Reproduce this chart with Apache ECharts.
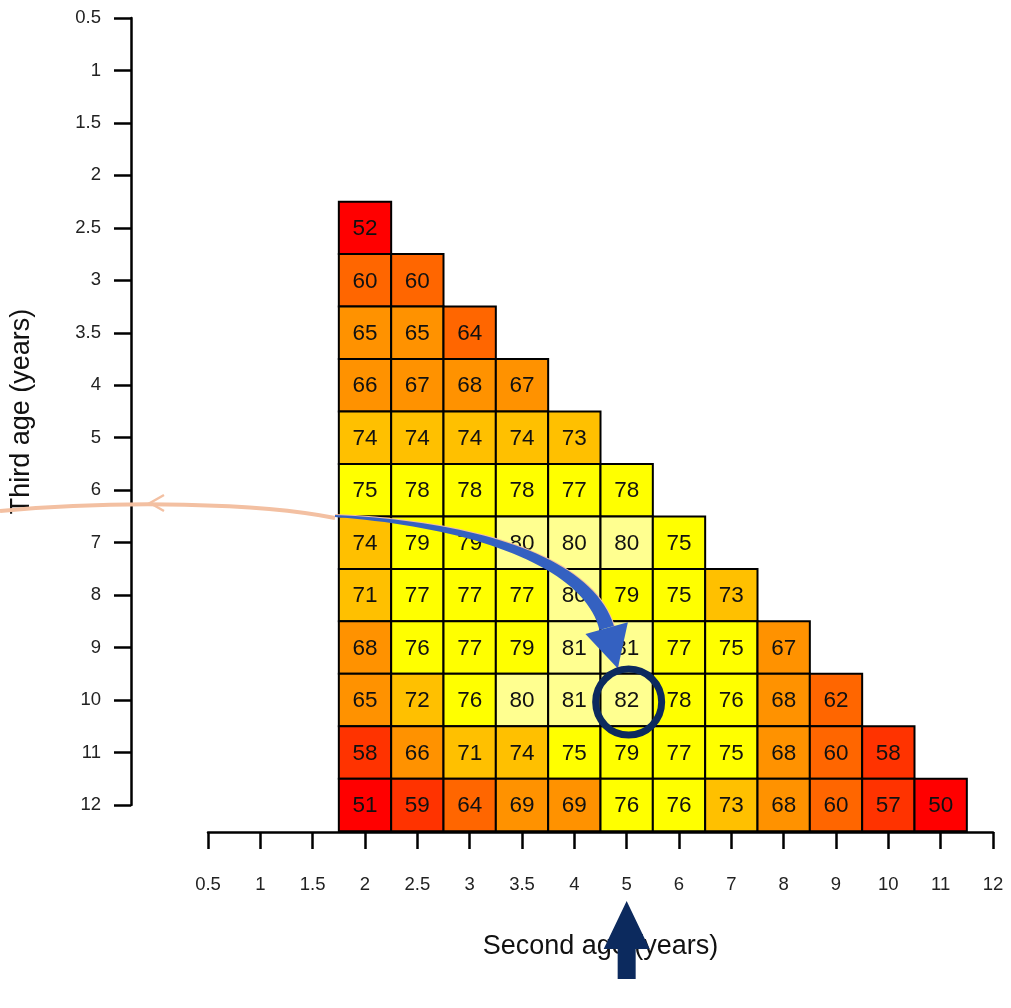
<!DOCTYPE html>
<html><head><meta charset="utf-8">
<script src="https://cdn.jsdelivr.net/npm/echarts@6/dist/echarts.min.js"></script>
<style>html,body{margin:0;padding:0;background:#fff}#c{width:1011px;height:1008px}</style>
</head><body><div id="c"></div>
<script>
// ---- data ----
const secondAges = ['0.5','1','1.5','2','2.5','3','3.5','4','5','6','7','8','9','10','11','12'];
const thirdAges  = ['0.5','1','1.5','2','2.5','3','3.5','4','5','6','7','8','9','10','11','12'];
const firstSecondAge = '2'; // each row below starts at second age = 2
const third_2_5 = [52];
const third_3   = [60, 60];
const third_3_5 = [65, 65, 64];
const third_4   = [66, 67, 68, 67];
const third_5   = [74, 74, 74, 74, 73];
const third_6   = [75, 78, 78, 78, 77, 78];
const third_7   = [74, 79, 79, 80, 80, 80, 75];
const third_8   = [71, 77, 77, 77, 80, 79, 75, 73];
const third_9   = [68, 76, 77, 79, 81, 81, 77, 75, 67];
const third_10  = [65, 72, 76, 80, 81, 82, 78, 76, 68, 62];
const third_11  = [58, 66, 71, 74, 75, 79, 77, 75, 68, 60, 58];
const third_12  = [51, 59, 64, 69, 69, 76, 76, 73, 68, 60, 57, 50];
const rowLabels = ['2.5','3','3.5','4','5','6','7','8','9','10','11','12'];
const rowValues = [third_2_5, third_3, third_3_5, third_4, third_5, third_6, third_7, third_8, third_9, third_10, third_11, third_12];
const colorBins   = [50, 54.5, 59.5, 64.5, 69.5, 74.5, 79.5, 85];
const colorValues = ['#FF0000', '#FF3300', '#FF6600', '#FF9200', '#FFC000', '#FFFF00', '#FFFF90'];

// ---- build ----
const startIdx = secondAges.indexOf(firstSecondAge);
const data = [];
rowLabels.forEach((ry, i) => {
  rowValues[i].forEach((v, j) => data.push([secondAges[startIdx + j], ry, v]));
});
const pieces = colorValues.map((c, i) => ({ min: colorBins[i], max: colorBins[i + 1], color: c }));

const FONT = '"Liberation Sans", Arial, Helvetica, sans-serif';
const chart = echarts.init(document.getElementById('c'), null, { renderer: 'canvas' });
const axisCommon = {
  type: 'category',
  boundaryGap: false,
  axisLine: { show: true, lineStyle: { color: '#000', width: 2.5 } },
  axisTick: { show: true, interval: 0, length: 17, lineStyle: { color: '#000', width: 2.5 } },
  splitLine: { show: false },
  nameLocation: 'middle',
  nameTextStyle: { fontSize: 27, fontFamily: FONT, color: '#111' }
};
chart.setOption({
  animation: false,
  backgroundColor: '#fff',
  grid: { left: 207, right: 18, top: 18, bottom: 203, containLabel: false },
  xAxis: Object.assign({}, axisCommon, {
    data: secondAges, position: 'bottom', offset: 27,
    name: 'Second age (years)', nameGap: 101,
    axisLabel: { interval: 0, margin: 43, fontSize: 18.5, fontFamily: FONT, color: '#222' }
  }),
  yAxis: Object.assign({}, axisCommon, {
    data: thirdAges, inverse: true, position: 'left', offset: 77,
    name: 'Third age (years)', nameGap: 96,
    axisLabel: { interval: 0, margin: 30, fontSize: 18.5, fontFamily: FONT, color: '#222' }
  }),
  visualMap: { show: false, type: 'piecewise', dimension: 2, pieces: pieces, seriesIndex: 0 },
  series: [{
    type: 'custom',
    encode: { x: 0, y: 1 },
    data: data,
    z: 2,
    renderItem: function (params, api) {
      const c = api.coord([api.value(0), api.value(1)]);
      const s = api.size([1, 1]);
      return {
        type: 'group',
        children: [
          { type: 'rect', shape: { x: c[0] - s[0] / 2, y: c[1] - s[1] / 2, width: s[0], height: s[1] },
            style: { fill: api.visual('color'), stroke: '#000', lineWidth: 2 } },
          { type: 'text', style: { x: c[0], y: c[1] + 1, text: String(api.value(2)), align: 'center', verticalAlign: 'middle',
            fontSize: 22.5, fontFamily: FONT, fill: '#111' } }
        ]
      };
    }
  }]
});

// ---- annotations ----
const px = (xl, yl) => chart.convertToPixel({ gridIndex: 0 }, [secondAges.indexOf(xl), thirdAges.indexOf(yl)]);
const target = px('5', '10');
const xAxisY = px('5', '12')[1] + 27;

// blue curved arrow
const P0 = [335, 516], P1 = [470, 524], P2 = [588, 560], P3 = [target[0] - 20, target[1] - 72];
function bez(t) {
  const a = (1 - t) ** 3, b = 3 * (1 - t) ** 2 * t, c = 3 * (1 - t) * t * t, d = t ** 3;
  return [a * P0[0] + b * P1[0] + c * P2[0] + d * P3[0], a * P0[1] + b * P1[1] + c * P2[1] + d * P3[1]];
}
function tan(t) {
  const dx = 3 * (1 - t) ** 2 * (P1[0] - P0[0]) + 6 * (1 - t) * t * (P2[0] - P1[0]) + 3 * t * t * (P3[0] - P2[0]);
  const dy = 3 * (1 - t) ** 2 * (P1[1] - P0[1]) + 6 * (1 - t) * t * (P2[1] - P1[1]) + 3 * t * t * (P3[1] - P2[1]);
  const l = Math.hypot(dx, dy); return [dx / l, dy / l];
}
const left = [], right = [], peach = [];
for (let i = 0; i <= 40; i++) {
  const t = i / 40, p = bez(t), d = tan(t), n = [-d[1], d[0]];
  const w = (2 + 13 * t) / 2;
  left.push([p[0] + n[0] * w, p[1] + n[1] * w]);
  right.push([p[0] - n[0] * w, p[1] - n[1] * w]);
  peach.push([p[0] - n[0] * (w - 0.5), p[1] - n[1] * (w - 0.5)]);
}
const dEnd = tan(1), nEnd = [-dEnd[1], dEnd[0]];
const tip = [P3[0] + dEnd[0] * 42, P3[1] + dEnd[1] * 42];
peach.push(tip);
const head = [[P3[0] + nEnd[0] * 22, P3[1] + nEnd[1] * 22], tip, [P3[0] - nEnd[0] * 22, P3[1] - nEnd[1] * 22]];

const PEACH = '#F3C0A2', BLUE = '#3461C1', NAVY = '#0C2A5E';
const ux = target[0];
chart.setOption({
  graphic: [
    { type: 'bezierCurve', z: 100, shape: { x1: 335, y1: 518, cpx1: 260, cpy1: 503, cpx2: 120, cpy2: 500, x2: 0, y2: 511 },
      style: { stroke: PEACH, lineWidth: 4, fill: null } },
    { type: 'polyline', z: 100, shape: { points: [[164, 495], [150, 503], [164, 511]] },
      style: { stroke: PEACH, lineWidth: 2.5, fill: null } },
    { type: 'polyline', z: 100, shape: { points: peach }, style: { stroke: PEACH, lineWidth: 3, fill: null } },
    { type: 'polygon', z: 101, shape: { points: left.concat(right.slice().reverse()) }, style: { fill: BLUE } },
    { type: 'polygon', z: 101, shape: { points: head }, style: { fill: BLUE } },
    { type: 'circle', z: 102, shape: { cx: target[0] + 2, cy: target[1] + 2, r: 33 },
      style: { stroke: NAVY, lineWidth: 7, fill: null } },
    { type: 'polygon', z: 102, shape: { points: [[ux, xAxisY + 69], [ux + 23, xAxisY + 117], [ux + 9, xAxisY + 117], [ux + 9, xAxisY + 147],
      [ux - 9, xAxisY + 147], [ux - 9, xAxisY + 117], [ux - 23, xAxisY + 117]] }, style: { fill: NAVY } }
  ]
});
</script></body></html>
